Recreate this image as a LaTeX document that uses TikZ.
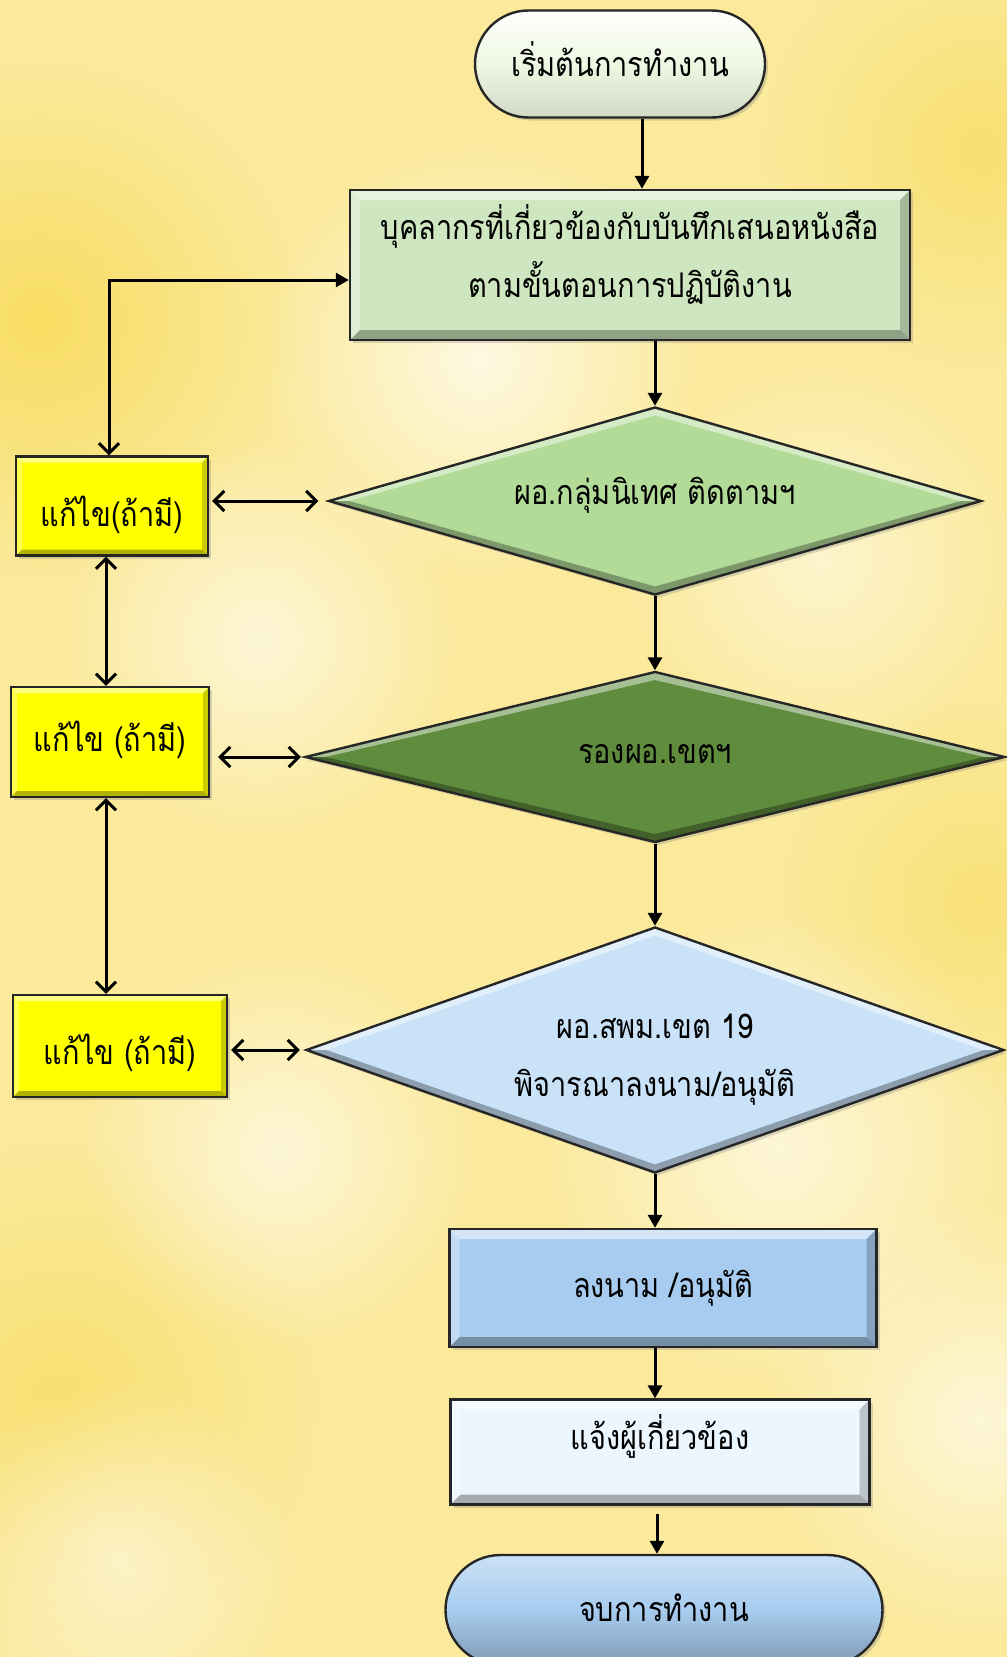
\documentclass[tikz,border=0pt]{standalone}
\usepackage{fontspec}
\newfontfamily\thai[Script=Thai,FakeStretch=0.85]{Loma}
\usetikzlibrary{shapes.geometric,shapes.misc,arrows.meta,shadows,fadings}
\tikzfading[name=blob, inner color=transparent!0, outer color=transparent!100]
\definecolor{bgbase}{HTML}{FBEA9C}
\definecolor{bgdeep}{HTML}{F8D955}
\definecolor{startc}{HTML}{EEF7E2}
\definecolor{box1c}{HTML}{CFE7C0}
\definecolor{d1c}{HTML}{B2DB98}
\definecolor{d2c}{HTML}{5F8C3D}
\definecolor{d3c}{HTML}{C9E2F8}
\definecolor{b3c}{HTML}{A8CCEF}
\definecolor{b4c}{HTML}{EBF6FE}
\definecolor{endc}{HTML}{A8CCEF}
\definecolor{yel}{HTML}{FFFF00}
\newcommand{\rtxt}[2]{\raisebox{#1}[0pt][0pt]{\begin{tabular}{@{}c@{}}#2\end{tabular}}}
\tikzset{
  bevelr/.style={path picture={
    \fill[white,opacity=.5] (path picture bounding box.north west) -- (path picture bounding box.north east) -- ([shift={(-#1,-#1)}]path picture bounding box.north east) -- ([shift={(#1,-#1)}]path picture bounding box.north west) -- cycle;
    \fill[white,opacity=.3] (path picture bounding box.north west) -- ([shift={(#1,-#1)}]path picture bounding box.north west) -- ([shift={(#1,#1)}]path picture bounding box.south west) -- (path picture bounding box.south west) -- cycle;
    \fill[black,opacity=.3] (path picture bounding box.south west) -- (path picture bounding box.south east) -- ([shift={(-#1,#1)}]path picture bounding box.south east) -- ([shift={(#1,#1)}]path picture bounding box.south west) -- cycle;
    \fill[black,opacity=.2] (path picture bounding box.north east) -- ([shift={(-#1,-#1)}]path picture bounding box.north east) -- ([shift={(-#1,#1)}]path picture bounding box.south east) -- (path picture bounding box.south east) -- cycle;
  }},
  beveld/.style 2 args={path picture={
    \fill[white,opacity=.45] (path picture bounding box.west) -- (path picture bounding box.north) -- (path picture bounding box.east) -- ([xshift=-#1]path picture bounding box.east) -- ([yshift=-#2]path picture bounding box.north) -- ([xshift=#1]path picture bounding box.west) -- cycle;
    \fill[black,opacity=.3] (path picture bounding box.west) -- (path picture bounding box.south) -- (path picture bounding box.east) -- ([xshift=-#1]path picture bounding box.east) -- ([yshift=#2]path picture bounding box.south) -- ([xshift=#1]path picture bounding box.west) -- cycle;
  }},
  base/.style={draw=black!85, line width=2.4pt, font=\thai\fontsize{34}{58}\selectfont,
    text=black, align=center, inner sep=0pt,
    drop shadow={shadow xshift=3pt,shadow yshift=-3pt,opacity=.3}},
  rbox/.style={base, rectangle, bevelr=10pt},
  ybox/.style={base, rectangle, fill=yel, bevelr=6pt},
  dia/.style={base, diamond, beveld={20pt}{8pt}},
  term/.style={base, rounded rectangle},
  flow/.style={line width=3pt, -{Triangle[length=13pt,width=14pt]}},
  bi/.style={line width=3pt, {Straight Barb[length=10pt,width=20pt]}-{Straight Barb[length=10pt,width=20pt]}},
  fback/.style={line width=3pt, {Straight Barb[length=10pt,width=20pt]}-{Triangle[length=13pt,width=14pt]}},
}
\begin{document}
\begin{tikzpicture}[x=1pt,y=-1pt]
\useasboundingbox (0,0) rectangle (1007,1657);
\clip (0,0) rectangle (1007,1657);
% background
\fill[bgbase] (0,0) rectangle (1007,1657);
\fill[bgdeep, path fading=blob, opacity=.8] (40,320) circle (260pt);
\fill[bgdeep, path fading=blob, opacity=.6] (980,150) circle (220pt);
\fill[bgdeep, path fading=blob, opacity=.6] (60,1400) circle (260pt);
\fill[bgdeep, path fading=blob, opacity=.5] (980,900) circle (200pt);
\fill[white, path fading=blob, opacity=.7] (480,360) circle (220pt);
\fill[white, path fading=blob, opacity=.6] (260,640) circle (200pt);
\fill[white, path fading=blob, opacity=.6] (780,1150) circle (240pt);
\fill[white, path fading=blob, opacity=.6] (280,1150) circle (200pt);
\fill[white, path fading=blob, opacity=.6] (980,1420) circle (220pt);
\fill[white, path fading=blob, opacity=.5] (820,560) circle (200pt);
\fill[white, path fading=blob, opacity=.5] (120,1560) circle (180pt);

% nodes
\node[term, minimum width=290pt, minimum height=107pt, top color=white, bottom color=startc!88!black, middle color=startc] (start) at (620,64) {\rtxt{-7.5pt}{เริ่มต้นการทำงาน}};
\node[rbox, fill=box1c, minimum width=560pt, minimum height=150pt] (box1) at (630,265) {\rtxt{2pt}{บุคลากรที่เกี่ยวข้องกับบันทึกเสนอหนังสือ\\ตามขั้นตอนการปฏิบัติงาน}};
\node[dia, fill=d1c, aspect=3.47, minimum width=653pt, minimum height=188pt] (d1) at (655,501) {\rtxt{2pt}{ผอ.กลุ่มนิเทศ ติดตามฯ}};
\node[dia, fill=d2c, aspect=4.1, minimum width=700pt, minimum height=171pt] (d2) at (655,757) {\rtxt{-1.5pt}{รองผอ.เขตฯ}};
\node[dia, fill=d3c, aspect=2.84, minimum width=698pt, minimum height=246pt] (d3) at (655,1050) {\rtxt{-12.5pt}{ผอ.สพม.เขต 19\\พิจารณาลงนาม/อนุมัติ}};
\node[rbox, fill=b3c, minimum width=427pt, minimum height=118pt] (b3) at (663,1288) {\rtxt{-4.5pt}{ลงนาม /อนุมัติ}};
\node[rbox, fill=b4c, minimum width=419pt, minimum height=105pt] (b4) at (660,1452) {\rtxt{7.5pt}{แจ้งผู้เกี่ยวข้อง}};
\node[term, minimum width=437pt, minimum height=110pt, top color=endc!60!white, bottom color=endc!75!black, middle color=endc] (end) at (664,1610) {\rtxt{-6.5pt}{จบการทำงาน}};
\node[ybox, minimum width=192pt, minimum height=99pt] (y1) at (112,506) {\rtxt{-15pt}{แก้ไข(ถ้ามี)}};
\node[ybox, minimum width=198pt, minimum height=110pt] (y2) at (110,742) {\rtxt{-4.5pt}{แก้ไข (ถ้ามี)}};
\node[ybox, minimum width=214pt, minimum height=102pt] (y3) at (120,1046) {\rtxt{-13.5pt}{แก้ไข (ถ้ามี)}};

% helper coordinates
\coordinate (cx0) at (642,0);
\coordinate (cx1) at (655,0);
\coordinate (cx2) at (657,0);
\coordinate (vx) at (106,0);
\coordinate (fb) at (109,280);

% main flow
\draw[flow] (start.south -| cx0) -- (box1.north -| cx0);
\draw[flow] (box1.south -| cx1) -- (d1.north);
\draw[flow] (d1.south) -- (d2.north);
\draw[flow] (d2.south) -- (d3.north);
\draw[flow] (d3.south) -- (b3.north -| d3.south);
\draw[flow] (b3.south -| cx1) -- (b4.north -| cx1);
\draw[flow] ([yshift=-8pt]b4.south -| cx2) -- (end.north -| cx2);

% feedback
\draw[fback] (y1.north -| fb) -- (fb) -- (box1.west |- fb);
\draw[bi] ([xshift=3pt]y1.east |- d1.west) -- ([xshift=-9pt]d1.west);
\draw[bi] (y1.south -| vx) -- (y2.north -| vx);
\draw[bi] ([xshift=8pt]y2.east |- d2.west) -- ([xshift=-3pt]d2.west);
\draw[bi] (y2.south -| vx) -- (y3.north -| vx);
\draw[bi] ([xshift=3pt]y3.east |- d3.west) -- ([xshift=-5pt]d3.west);
\end{tikzpicture}
\end{document}
